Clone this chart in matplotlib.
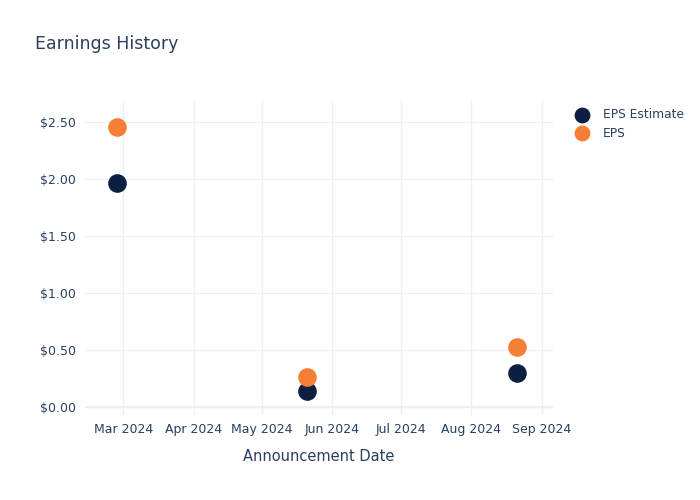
import matplotlib.pyplot as plt
import matplotlib.dates as mdates
import numpy as np
import pandas as pd

# earnings data
dates = pd.to_datetime(["2024-02-27", "2024-05-21", "2024-08-21"])
eps_estimate = [1.96, 0.14, 0.30]
eps_actual = [2.45, 0.26, 0.53]
y_ticks = [0.0, 0.5, 1.0, 1.5, 2.0, 2.5]

text_color = "#2a3f5f"
grid_color = "#ebf0f8"

fig = plt.figure(figsize=(7, 5), dpi=100)
ax = fig.add_axes([0.121, 0.17, 0.669, 0.63])

ax.scatter(dates, eps_estimate, s=180, color="#0b1f40", label="EPS Estimate", zorder=3, linewidths=0)
ax.scatter(dates, eps_actual, s=180, color="#f77f35", label="EPS", zorder=3, linewidths=0)

ax.set_xlim(pd.Timestamp("2024-02-13"), pd.Timestamp("2024-09-06"))
ax.set_ylim(-0.07, 2.69)
ax.set_yticks(y_ticks)
ax.set_yticklabels(["$%.2f" % v for v in y_ticks])
ax.xaxis.set_major_locator(mdates.MonthLocator(bymonth=range(3, 10)))
ax.xaxis.set_major_formatter(mdates.DateFormatter("%b %Y"))

for s in ax.spines.values():
    s.set_visible(False)
ax.grid(True, color=grid_color, linewidth=1)
ax.set_axisbelow(True)
ax.tick_params(length=0, labelsize=9, labelcolor=text_color, pad=6)
ax.axhline(0, color=grid_color, linewidth=1.5, zorder=1)

ax.set_xlabel("Announcement Date", fontsize=10.5, color=text_color, labelpad=9)
fig.text(0.05, 0.912, "Earnings History", fontsize=12.5, color=text_color, va="center")

leg = ax.legend(loc="upper left", bbox_to_anchor=(1.025, 0.99), frameon=False,
                fontsize=8.8, labelcolor=text_color, handletextpad=0.7,
                borderaxespad=0, labelspacing=0.45, markerscale=0.85)

fig.savefig("out.png", dpi=100)
